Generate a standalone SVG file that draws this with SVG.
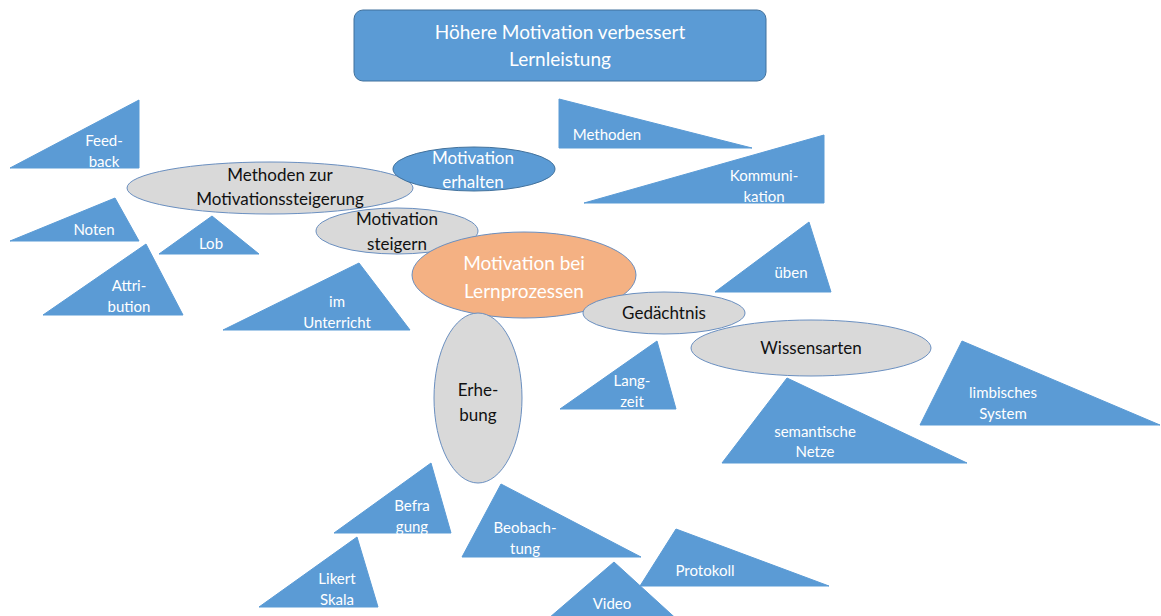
<svg xmlns="http://www.w3.org/2000/svg" width="1161" height="616" viewBox="0 0 1161 616">
<style>
.tri{fill:#5B9BD5;stroke:#5B9BD5;stroke-width:1}
.gry{fill:#D9D9D9;stroke:#6A8FC0;stroke-width:1}
.blu{fill:#5B9BD5;stroke:#41719C;stroke-width:1}
.org{fill:#F4B183;stroke:#6A8FC0;stroke-width:1}
text{font-family:Lato,"Open Sans","Liberation Sans",sans-serif;text-anchor:middle}
.w{fill:#FFFFFF;font-size:15px}
.k{fill:#111111;font-size:17px}
.wl{fill:#FFFFFF;font-size:17px}
.t{fill:#FFFFFF;font-size:19px}
.c{fill:#FFFFFF;font-size:19px}
</style>
<g id="title">
<rect x="354" y="10" width="412" height="71" rx="9" class="blu"/>
<text class="t" x="560" y="39">Höhere Motivation verbessert</text>
<text class="t" x="560" y="66">Lernleistung</text>
</g>
<g id="connectors"></g>
<g id="feedback"><polygon class="tri" points="10,168 139,100 139,168"/><text class="w" x="104" y="146">Feed-</text><text class="w" x="104" y="167">back</text></g>
<g id="noten"><polygon class="tri" points="10,241 115,198 139,241"/><text class="w" x="94" y="235">Noten</text></g>
<g id="lob"><polygon class="tri" points="159,254 212,216 259,254"/><text class="w" x="211" y="249">Lob</text></g>
<g id="attribution"><polygon class="tri" points="43,315 146,244 183,315"/><text class="w" x="129" y="291">Attri-</text><text class="w" x="129" y="312">bution</text></g>
<g id="unterricht"><polygon class="tri" points="223,330 359,263 410,330"/><text class="w" x="337" y="307">im</text><text class="w" x="337" y="328">Unterricht</text></g>
<g id="methoden"><polygon class="tri" points="559,99 559,148 752,148"/><text class="w" x="607" y="140">Methoden</text></g>
<g id="kommunikation"><polygon class="tri" points="584,203 824,135 824,203"/><text class="w" x="764" y="181">Kommuni-</text><text class="w" x="764" y="202">kation</text></g>
<g id="ueben"><polygon class="tri" points="715,292 809,222 831,292"/><text class="w" x="791" y="278">üben</text></g>
<g id="langzeit"><polygon class="tri" points="560,409 657,341 676,409"/><text class="w" x="632" y="386">Lang-</text><text class="w" x="632" y="407">zeit</text></g>
<g id="semantisch"><polygon class="tri" points="722,463 787,378 967,463"/><text class="w" x="815" y="437">semantische</text><text class="w" x="815" y="457">Netze</text></g>
<g id="limbisch"><polygon class="tri" points="920,425 962,341 1160,425"/><text class="w" x="1003" y="398">limbisches</text><text class="w" x="1003" y="419">System</text></g>
<g id="befragung"><polygon class="tri" points="334,533 431,463 451,533"/><text class="w" x="412" y="511">Befra</text><text class="w" x="412" y="532">gung</text></g>
<g id="beobachtung"><polygon class="tri" points="462,557 501,484 641,557"/><text class="w" x="525" y="533">Beobach-</text><text class="w" x="525" y="554">tung</text></g>
<g id="likert"><polygon class="tri" points="259,607 357,537 378,607"/><text class="w" x="337" y="584">Likert</text><text class="w" x="337" y="605">Skala</text></g>
<g id="protokoll"><polygon class="tri" points="640,586 676,529 829,586"/><text class="w" x="705" y="576">Protokoll</text></g>
<g id="video"><polygon class="tri" points="542,624 614,562 682,624"/><text class="w" x="612" y="609">Video</text></g>
<g id="methoden-zur"><ellipse class="gry" cx="270" cy="188" rx="143" ry="26"/><text class="k" x="280" y="181">Methoden zur</text><text class="k" x="280" y="205">Motivationssteigerung</text></g>
<g id="erhalten"><ellipse class="blu" cx="474" cy="169" rx="81" ry="22"/><text class="wl" x="473" y="164">Motivation</text><text class="wl" x="473" y="188">erhalten</text></g>
<g id="steigern"><ellipse class="gry" cx="397" cy="231" rx="81" ry="23"/><text class="k" x="397" y="225">Motivation</text><text class="k" x="397" y="250">steigern</text></g>
<g id="zentrum"><ellipse class="org" cx="524" cy="275" rx="112" ry="43"/><text class="c" x="524" y="270">Motivation bei</text><text class="c" x="524" y="298">Lernprozessen</text></g>
<g id="gedaechtnis"><ellipse class="gry" cx="664" cy="313" rx="81" ry="21"/><text class="k" x="664" y="319">Gedächtnis</text></g>
<g id="wissensarten"><ellipse class="gry" cx="811" cy="348" rx="120" ry="28"/><text class="k" x="811" y="354">Wissensarten</text></g>
<g id="erhebung"><ellipse class="gry" cx="478" cy="398" rx="44" ry="85"/><text class="k" x="478" y="396">Erhe-</text><text class="k" x="478" y="421">bung</text></g>
</svg>
